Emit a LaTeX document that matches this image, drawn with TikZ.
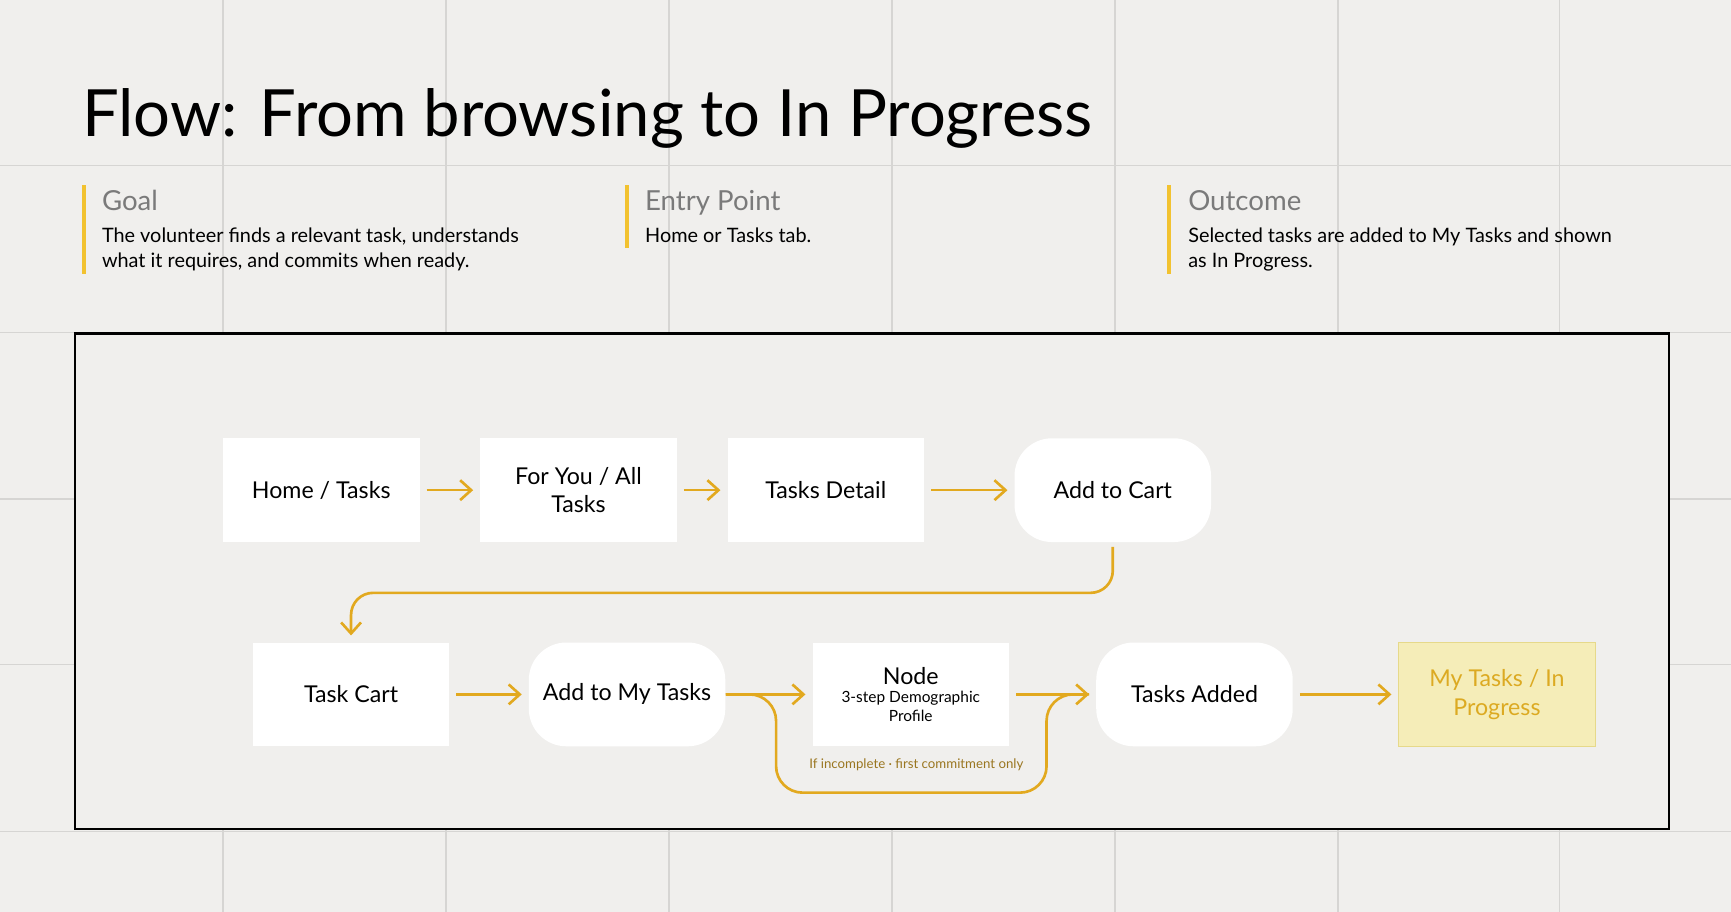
\documentclass[tikz,border=0pt]{standalone}
\usepackage{fontspec}
\setmainfont{Lato}
\usetikzlibrary{arrows.meta}
\definecolor{bg}{HTML}{F0EFED}
\definecolor{gridc}{HTML}{D6D5D3}
\definecolor{acc}{HTML}{E2A91F}
\definecolor{ybar}{HTML}{F2C230}
\definecolor{hd}{HTML}{7A7A7A}
\definecolor{yfill}{HTML}{F5EDB8}
\definecolor{ybord}{HTML}{E6D98A}
\definecolor{ytxt}{HTML}{DCAA22}
\definecolor{lab}{HTML}{9A7620}
\begin{document}
\begin{tikzpicture}[x=0.5pt,y=-0.5pt,
  box/.style={fill=white,draw=none,minimum width=89pt,minimum height=47pt,align=center,font=\fontsize{10.5}{13}\selectfont},
  rbox/.style={box,rounded corners=17pt},
  flow/.style={draw=acc,line width=1.2pt,-{Straight Barb[length=5pt,width=9pt]}},
  bar/.style={draw=ybar,line width=1.5pt},
  head/.style={anchor=north west,inner sep=0pt,text=hd,font=\fontsize{12.5}{15}\selectfont},
  body/.style={anchor=north west,inner sep=0pt,align=left,font=\fontsize{9}{11.5}\selectfont}]
\fill[bg] (0,0) rectangle (1568,826);
\useasboundingbox (0,0) rectangle (1568,826);
\foreach \x in {202,404,606,808,1010,1212,1413} \draw[gridc,line width=0.5pt] (\x,0) -- (\x,826);
\foreach \y in {150,301,452,602,753} \draw[gridc,line width=0.5pt] (0,\y) -- (1568,\y);
\node[anchor=base west,inner sep=0pt,font=\fontsize{29.5}{34}\selectfont] (title) at (74,124) {Flow: From browsing to In Progress};
\draw[bar] (76,168) -- (76,248);
\draw[bar] (568,168) -- (568,225);
\draw[bar] (1059,168) -- (1059,248);
\node[head] (g) at (92,172) {Goal};
\node[body] (gb) at (92,206) {The volunteer finds a relevant task, understands\\what it requires, and commits when ready.};
\node[head] (e) at (584,172) {Entry Point};
\node[body] (eb) at (584,206) {Home or Tasks tab.};
\node[head] (o) at (1076,172) {Outcome};
\node[body] (ob) at (1076,206) {Selected tasks are added to My Tasks and shown\\as In Progress.};
\draw[black,line width=1pt,fill=bg] (68,302) rectangle (1512,751);
\node[box] (a) at (291,444) {Home / Tasks};
\node[box] (b) at (524,444) {For You / All\\Tasks};
\node[box] (c) at (748,444) {Tasks Detail};
\node[rbox] (d) at (1008,444) {Add to Cart};
\node[box] (e2) at (318,629) {Task Cart};
\node[rbox] (f) at (568,629) {Add to My Tasks};
\node[box,font=\fontsize{7}{8.5}\selectfont] (n) at (825,629) {{\fontsize{10.5}{12}\selectfont Node}\\3-step Demographic\\Profile};
\node[rbox] (h) at (1082,629) {Tasks Added};
\node[box,fill=yfill,draw=ybord,line width=0.6pt,text=ytxt] (m) at (1356,629) {My Tasks / In\\Progress};
\draw[flow] ([xshift=3pt]a.east) -- ([xshift=-3pt]b.west);
\draw[flow] ([xshift=3pt]b.east) -- ([xshift=-3pt]c.west);
\draw[flow] ([xshift=3pt]c.east) -- ([xshift=-3pt]d.west);
\draw[flow,rounded corners=10pt] ([yshift=-2pt]d.south) -- (1008,537) -- (318,537) -- ([yshift=3pt]e2.north);
\draw[flow] ([xshift=3pt]e2.east) -- ([xshift=-3pt]f.west);
\draw[flow] (f.east) -- ([xshift=-3pt]n.west);
\draw[flow] ([xshift=3pt]n.east) -- ([xshift=-3pt]h.west);
\draw[flow] ([xshift=3pt]h.east) -- ([xshift=-3pt]m.west);
\draw[draw=acc,line width=1.2pt,rounded corners=12pt] (f.east) -- (703,629) -- (703,718) -- (948,718) -- (948,629) -- ([xshift=-3pt]h.west);
\node[text=lab,font=\fontsize{6}{7}\selectfont] (lbl) at (830,693) {If incomplete · first commitment only};
\end{tikzpicture}
\end{document}
